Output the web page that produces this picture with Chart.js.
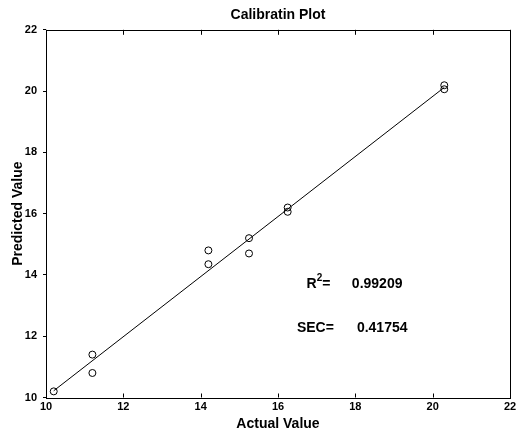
<!DOCTYPE html>
<html lang="en">
<head>
    <meta charset="UTF-8">
    <title>Calibratin Plot</title>
    <script src="https://cdn.jsdelivr.net/npm/chart.js"></script>
    <style>
        body { margin: 0; background: #fff; }
        .container { width: 527px; height: 433px; }
    </style>
</head>
<body>
    <div class="container">
        <canvas id="grafica"></canvas>
    </div>
    <script>
        // Datos
        const actual = [10.2, 11.2, 11.2, 14.2, 14.2, 15.25, 15.25, 16.25, 16.25, 20.3, 20.3];
        const predicted = [10.2, 11.4, 10.8, 14.8, 14.35, 15.2, 14.7, 16.2, 16.06, 20.19, 20.06];
        const fitX = [10.2, 20.3];
        const fitY = [10.22, 20.12];
        const axisTicks = [10, 12, 14, 16, 18, 20, 22];
        const statNames = ['R', 'SEC='];
        const statValues = ['0.99209', '0.41754'];

        const FONT = "'Liberation Sans', Arial, Helvetica, sans-serif";

        // marco, marcas hacia dentro y los textos de R2 / SEC
        const extras = {
            id: 'extras',
            afterDatasetsDraw(chart) {
                const ctx = chart.ctx;
                const a = chart.chartArea;
                const xs = chart.scales.x;
                const ys = chart.scales.y;
                ctx.save();
                ctx.strokeStyle = '#000';
                ctx.lineWidth = 1;
                ctx.strokeRect(Math.round(a.left) + 0.5, Math.round(a.top) + 0.5,
                    Math.round(a.right - a.left), Math.round(a.bottom - a.top));
                ctx.beginPath();
                axisTicks.forEach(v => {
                    const px = Math.round(xs.getPixelForValue(v)) + 0.5;
                    ctx.moveTo(px, a.bottom);
                    ctx.lineTo(px, a.bottom - 4);
                    ctx.moveTo(px, a.top);
                    ctx.lineTo(px, a.top + 5);
                });
                ctx.stroke();

                ctx.fillStyle = '#000';
                ctx.textBaseline = 'middle';
                ctx.textAlign = 'left';
                // R^2=
                let x = xs.getPixelForValue(16.74);
                let y = ys.getPixelForValue(13.69);
                ctx.font = 'bold 14px ' + FONT;
                ctx.fillText(statNames[0], x, y);
                x += ctx.measureText(statNames[0]).width;
                ctx.font = 'bold 10px ' + FONT;
                ctx.fillText('2', x, y - 6);
                x += ctx.measureText('2').width;
                ctx.font = 'bold 14px ' + FONT;
                ctx.fillText('=', x, y);
                ctx.fillText(statValues[0], xs.getPixelForValue(17.91), y);
                // SEC=
                y = ys.getPixelForValue(12.27);
                ctx.fillText(statNames[1], xs.getPixelForValue(16.49), y);
                ctx.fillText(statValues[1], xs.getPixelForValue(18.04), y);
                ctx.restore();
            }
        };

        const ctx = document.getElementById('grafica').getContext('2d');
        new Chart(ctx, {
            type: 'scatter',
            data: {
                datasets: [{
                    type: 'line',
                    data: fitX.map((v, i) => ({ x: v, y: fitY[i] })),
                    borderColor: '#000',
                    borderWidth: 1,
                    pointRadius: 0,
                    fill: false
                }, {
                    data: actual.map((v, i) => ({ x: v, y: predicted[i] })),
                    pointStyle: 'circle',
                    pointRadius: 3.5,
                    borderColor: '#000',
                    borderWidth: 1,
                    backgroundColor: 'rgba(0,0,0,0)'
                }]
            },
            options: {
                responsive: true,
                maintainAspectRatio: false,
                animation: false,
                layout: { padding: { left: 0, right: 17, top: 0, bottom: 0 } },
                plugins: {
                    legend: { display: false },
                    tooltip: { enabled: false },
                    title: {
                        display: true,
                        text: 'Calibratin Plot',
                        fullSize: false,
                        color: '#000',
                        font: { family: FONT, size: 14, weight: 'bold' },
                        padding: { top: 7, bottom: 6 }
                    }
                },
                scales: {
                    x: {
                        type: 'linear',
                        min: 10,
                        max: 22,
                        afterFit: s => { s.height = 35.5; },
                        afterBuildTicks: s => { s.ticks = axisTicks.map(v => ({ value: v })); },
                        grid: { display: false, drawTicks: false },
                        border: { display: false },
                        ticks: {
                            color: '#000',
                            padding: 3,
                            maxRotation: 0,
                            font: { family: FONT, size: 11, weight: 'bold' }
                        },
                        title: {
                            display: true,
                            text: 'Actual Value',
                            color: '#000',
                            font: { family: FONT, size: 14, weight: 'bold' },
                            padding: { top: 0, bottom: 0 }
                        }
                    },
                    y: {
                        type: 'linear',
                        min: 10,
                        max: 22,
                        afterFit: s => { s.width = 46; },
                        afterBuildTicks: s => { s.ticks = axisTicks.map(v => ({ value: v })); },
                        grid: { drawOnChartArea: false, drawTicks: true, tickLength: 3, color: '#000' },
                        border: { display: false },
                        ticks: {
                            color: '#000',
                            padding: 6,
                            font: { family: FONT, size: 11, weight: 'bold' }
                        },
                        title: {
                            display: true,
                            text: 'Predicted Value',
                            color: '#000',
                            font: { family: FONT, size: 14, weight: 'bold' },
                            padding: { top: 10, bottom: 0 }
                        }
                    }
                }
            },
            plugins: [extras]
        });
    </script>
</body>
</html>
